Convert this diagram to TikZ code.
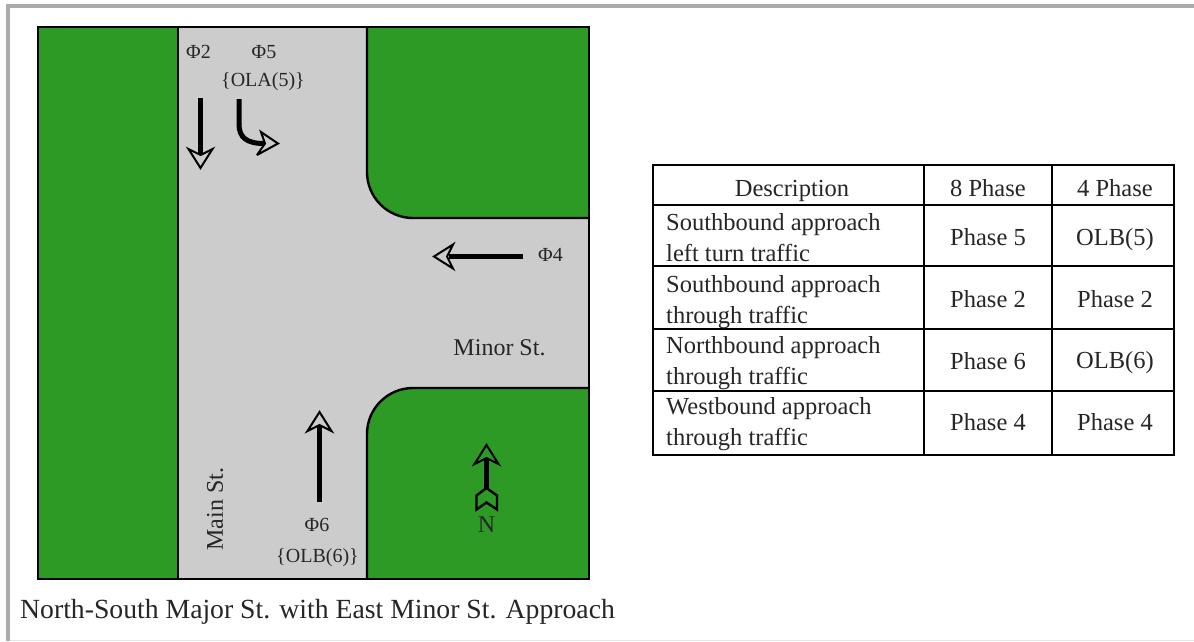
\documentclass[tikz,border=0pt]{standalone}
\usepackage{fontspec}
\setmainfont{Liberation Serif}
\definecolor{grass}{HTML}{2E9A26}
\definecolor{road}{HTML}{CCCCCC}
\definecolor{frame}{HTML}{ABABAB}
\tikzset{
  x=1pt,y=-1pt,
  lab/.style={font=\fontsize{20pt}{24pt}\selectfont,text=black!85,inner sep=0pt},
  tab/.style={font=\fontsize{24.5pt}{31pt}\selectfont,text=black!85,inner sep=0pt,align=center},
  tabl/.style={font=\fontsize{24.5pt}{31pt}\selectfont,text=black!85,inner sep=0pt,align=left,anchor=west},
  shaft/.style={line width=5pt},
  edge/.style={line width=2.4pt},
  tline/.style={line width=2.8pt}
}
\newcommand{\openarrow}[4]{% tip x, tip y, rotation, fill
  \begin{scope}[shift={(#1,#2)},rotate=#3]
    \draw[line width=2pt,fill=#4,miter limit=4] (-2,0) -- (-21,12) -- (-15,0) -- (-21,-12) -- cycle;
  \end{scope}}
\begin{document}
\begin{tikzpicture}
\useasboundingbox (0,0) rectangle (1194,641);
\fill[white] (0,0) rectangle (1194,641);
\fill[frame] (6,4) rectangle (1194,7.5);
\fill[frame] (6,4) rectangle (9.5,641);
\fill[black!10] (9.5,639.5) rectangle (1194,640.5);
% ground
\fill[grass] (38,27) rectangle (589,579);
% road
\fill[road] (178,27) -- (367,27) -- (367,172) arc[start angle=180,end angle=90,radius=46] -- (589,218) -- (589,388) -- (413,388) arc[start angle=270,end angle=180,radius=46] -- (367,579) -- (178,579) -- cycle;
% outlines
\draw[edge] (178,27) -- (178,579);
\draw[edge] (367,27) -- (367,172) arc[start angle=180,end angle=90,radius=46] -- (589,218);
\draw[edge] (589,388) -- (413,388) arc[start angle=270,end angle=180,radius=46] -- (367,579);
\draw[edge] (38,27) rectangle (589,579);
% arrows
\coordinate (a2s) at (200.5,98); \coordinate (a2e) at (200.5,154);
\draw[shaft] (a2s) -- (a2e);
\openarrow{200.5}{170}{-90}{road}
\coordinate (a5s) at (239,99); \coordinate (a5e) at (264,143.5);
\draw[shaft] (a5s) -- (239,124) .. controls (239,137) and (246,143.5) .. (a5e);
\draw[line width=2pt,fill=road,miter limit=4] (278,143.5) -- (261,132) -- (265,143.5) -- (257,155) -- cycle;
\coordinate (a4s) at (523,256.5); \coordinate (a4e) at (449,256.5);
\draw[shaft] (a4s) -- (a4e);
\openarrow{432}{256.5}{180}{road}
\coordinate (a6s) at (319.5,502); \coordinate (a6e) at (319.5,426);
\draw[shaft] (a6s) -- (a6e);
\openarrow{319.5}{410}{90}{road}
% north arrow
\coordinate (ns) at (486.5,490); \coordinate (ne) at (486.5,459);
\draw[shaft] (ns) -- (ne);
\openarrow{486.5}{443}{90}{grass}
\draw[edge,miter limit=6] (486.5,488) -- (476.5,495.5) -- (476.5,509.5) -- (486.5,502.5) -- (497,509.5) -- (497,495.5) -- cycle;
% labels
\node[lab] (p2) at (198.5,52) {Φ2};
\node[lab] (p5) at (264,52) {Φ5};
\node[lab] (ola) at (263,81.5) {\{OLA(5)\}};
\node[lab] (p4) at (550.5,255) {Φ4};
\node[lab] (p6) at (317,525) {Φ6};
\node[lab] (olb) at (317.5,557.5) {\{OLB(6)\}};
\node[font=\fontsize{24pt}{28pt}\selectfont,text=black!85,inner sep=0pt] (minor) at (499.5,348) {Minor St.};
\node[font=\fontsize{24pt}{28pt}\selectfont,text=black!85,inner sep=0pt,rotate=90] (main) at (215,509) {Main St.};
\node[font=\fontsize{24pt}{28pt}\selectfont,text=black!85,inner sep=0pt] (n) at (486.5,525) {N};
\node[font=\fontsize{27.7pt}{32pt}\selectfont,text=black!85,inner sep=0pt,anchor=west] (cap) at (20,611.5) {North-South Major St. with East Minor St. Approach};
% table
\draw[tline] (653,165) rectangle (1174,455);
\draw[tline] (653,205) -- (1174,205);
\draw[tline] (653,266) -- (1174,266);
\draw[tline] (653,329) -- (1174,329);
\draw[tline] (653,391) -- (1174,391);
\draw[tline] (924,165) -- (924,455);
\draw[tline] (1052,165) -- (1052,455);
\node[tab] (h1) at (792,190.5) {Description};
\node[tab] (h2) at (988,188) {8 Phase};
\node[tab] (h3) at (1115,188) {4 Phase};
\node[tabl] (d1) at (666,237.5) {Southbound approach\\left turn traffic};
\node[tab] (e1) at (988,237) {Phase 5};
\node[tab] (f1) at (1115,239.5) {OLB(5)};
\node[tabl] (d2) at (666,302.5) {Southbound approach\\through traffic};
\node[tab] (e2) at (988,299) {Phase 2};
\node[tab] (f2) at (1115,299) {Phase 2};
\node[tabl] (d3) at (666,363.5) {Northbound approach\\through traffic};
\node[tab] (e3) at (988,361) {Phase 6};
\node[tab] (f3) at (1115,362.5) {OLB(6)};
\node[tabl] (d4) at (666,424.5) {Westbound approach\\through traffic};
\node[tab] (e4) at (988,422) {Phase 4};
\node[tab] (f4) at (1115,422) {Phase 4};
\end{tikzpicture}
\end{document}
